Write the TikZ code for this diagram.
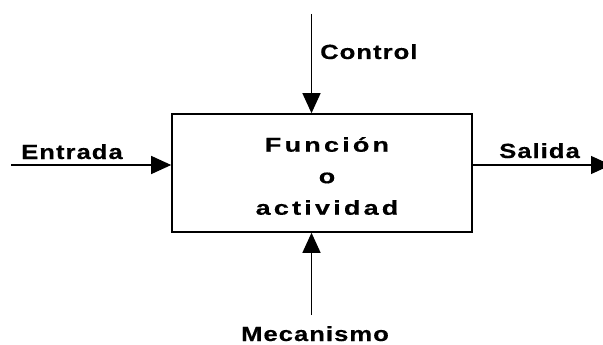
\documentclass[tikz,border=0pt]{standalone}
\usepackage{fontspec}
\setmainfont{Liberation Sans}
\newfontfamily\lblfamily[LetterSpace=5,FakeStretch=1.25,FakeBold=0.4]{Liberation Sans}
\newfontfamily\boxfamily[LetterSpace=16,FakeStretch=1.35,FakeBold=0.4]{Liberation Sans}
\usetikzlibrary{arrows.meta}
\usetikzlibrary{positioning}
\colorlet{penColor}{black}
\tikzset{>={Triangle[length=20pt,width=18pt]}}
\tikzset{
  lbl/.style={penColor, inner sep=0pt, font=\lblfamily\bfseries\fontsize{20.5}{24}\selectfont},
  flow/.style={->, penColor, line width=1.2pt},
}

\begin{document}
\begin{tikzpicture}[x=1pt,y=-1pt]
\useasboundingbox (0,0) rectangle (603,345);
% the activity box
\node [draw, penColor, line width=1.6pt, minimum width=300pt, minimum height=118pt,
       inner sep=0pt] (func) at (322,173) {};
\node [penColor, inner sep=0pt, align=center,
       font=\boxfamily\bfseries\fontsize{20}{31.5}\selectfont,
       xshift=5pt, yshift=-3pt] (funcTxt) at (func.center)
      {Función\\o\\actividad};
% free ends of the arrows
\coordinate (ctrl) at (311.5,14);
\coordinate (mec) at (311.5,315);
\coordinate (ent) at (11,165);
\coordinate (sal) at (611,165);
\draw[flow] (ctrl) -- (ctrl |- func.north);
\draw[flow] (mec) -- (mec |- func.south);
\draw[flow] (ent) -- (ent -| func.west);
\draw[flow] (sal -| func.east) -- (sal);
% labels
\node [lbl, anchor=base west] (ctrlLbl) at (320,59) {Control};
\node [lbl, anchor=base west] (entLbl) at (21,159) {Entrada};
\node [lbl, anchor=base west] (salLbl) at (499,158) {Salida};
\node [lbl, anchor=base] (mecLbl) at (315,341) {Mecanismo};
\end{tikzpicture}
\end{document}
